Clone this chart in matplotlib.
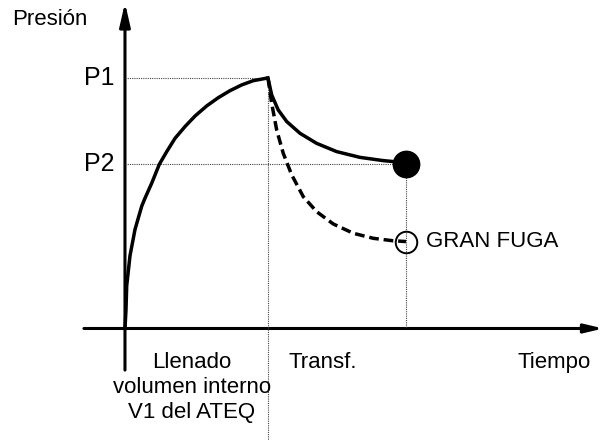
import matplotlib
matplotlib.use("Agg")
import matplotlib.pyplot as plt
from matplotlib.patches import FancyArrowPatch

plt.rcParams['font.family'] = ['Liberation Sans', 'DejaVu Sans']

# Filling of internal volume (time, pressure); P1 = 1.0 reached at t = 1.0
fill_t = [0.0, 0.007, 0.012, 0.035, 0.07, 0.117, 0.140, 0.187, 0.240, 0.292,
          0.350, 0.420, 0.490, 0.571, 0.652, 0.734, 0.816, 0.897, 1.0]
fill_p = [0.0, 0.074, 0.17, 0.29, 0.395, 0.488, 0.520, 0.580, 0.655, 0.706,
          0.759, 0.806, 0.848, 0.888, 0.921, 0.949, 0.972, 0.989, 1.0]

# Transfer, no leak: settles on P2
ok_t = [1.0, 1.026, 1.072, 1.131, 1.224, 1.340, 1.480, 1.643, 1.806, 1.900, 1.965]
ok_p = [1.0, 0.932, 0.872, 0.826, 0.779, 0.739, 0.706, 0.683, 0.670, 0.665, 0.656]

# Transfer with a big leak
leak_t = [1.0, 1.026, 1.061, 1.107, 1.166, 1.247, 1.341, 1.457, 1.597,
          1.736, 1.876, 1.965]
leak_p = [1.0, 0.899, 0.792, 0.699, 0.613, 0.526, 0.466, 0.417, 0.380,
          0.360, 0.350, 0.347]

P1 = 1.0
P2 = 0.656
t_transf = 1.0
t_end = 1.965
leak_end = 0.347


def main():
    fig = plt.figure(figsize=(6.04, 4.43), dpi=100)
    ax = fig.add_axes([0, 0, 1, 1])
    ax.set_xlim(-0.874, 3.350)
    ax.set_ylim(-0.457, 1.311)
    ax.axis('off')

    # dotted guides
    dot = dict(color='#444444', lw=0.8, linestyle=(0, (1, 1)))
    ax.plot([0, t_transf], [P1, P1], **dot)
    ax.plot([0, t_end], [P2, P2], **dot)
    ax.plot([t_transf, t_transf], [P1, -0.445], **dot)
    ax.plot([t_end, t_end], [P2, 0], **dot)

    # axes with arrows
    ax.add_patch(FancyArrowPatch((0, -0.166), (0, 1.30), arrowstyle='-|>,head_length=14,head_width=3.2',
                                 mutation_scale=1, lw=2.2, color='black', shrinkA=0, shrinkB=0))
    ax.add_patch(FancyArrowPatch((-0.287, 0), (3.345, 0), arrowstyle='-|>,head_length=11,head_width=2.6',
                                 mutation_scale=1, lw=2.2, color='black', shrinkA=0, shrinkB=0))

    # curves
    ax.plot(fill_t, fill_p, color='black', lw=2.5, solid_capstyle='butt', solid_joinstyle='round')
    ax.plot(ok_t, ok_p, color='black', lw=2.5, solid_joinstyle='round')
    ax.plot(leak_t, leak_p, color='black', lw=2.5, linestyle=(0, (2.8, 1.4)))
    ax.plot([t_end], [P2], marker='o', markersize=19, color='black')
    ax.plot([t_end], [leak_end], marker='o', markersize=15.5, markerfacecolor='none',
            markeredgecolor='black', markeredgewidth=1.4)

    # texts
    ax.text(-0.79, 1.235, 'Presión', fontsize=16, ha='left', va='center')
    ax.text(-0.07, P1, 'P1', fontsize=18, ha='right', va='center')
    ax.text(-0.07, P2, 'P2', fontsize=18, ha='right', va='center')
    ax.text(2.105, leak_end, 'GRAN FUGA', fontsize=16, ha='left', va='center')
    ax.text(0.469, -0.092, 'Llenado\nvolumen interno\nV1 del ATEQ', fontsize=16,
            ha='center', va='top', linespacing=1.27)
    ax.text(1.147, -0.092, 'Transf.', fontsize=16, ha='left', va='top')
    ax.text(2.748, -0.092, 'Tiempo', fontsize=16, ha='left', va='top')

    fig.savefig('out.png', dpi=100)


if __name__ == "__main__":
    main()
